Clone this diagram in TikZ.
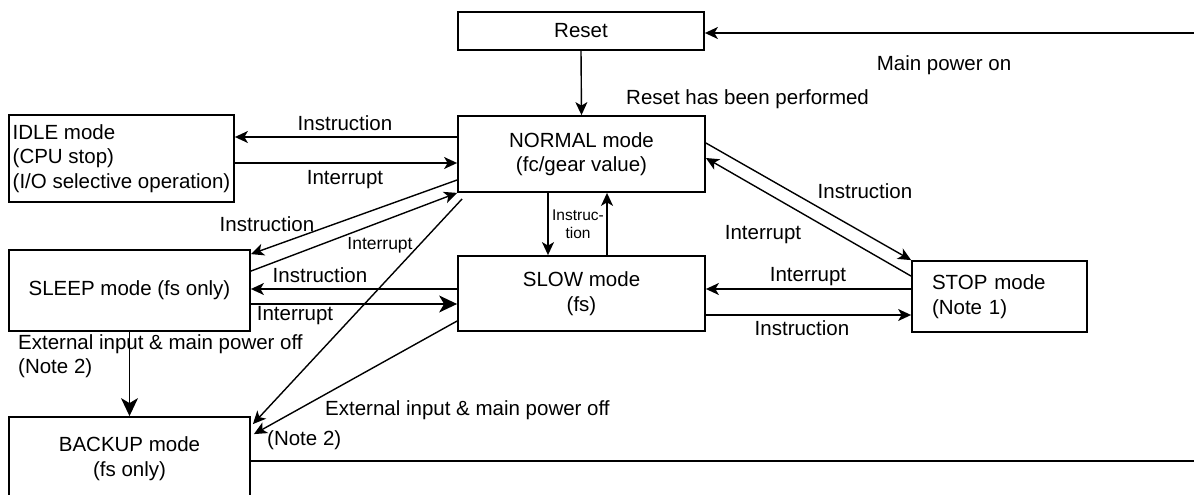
\documentclass[tikz,border=0pt]{standalone}
\usepackage{fontspec}
\setmainfont{Liberation Sans}
\usetikzlibrary{calc,arrows.meta}
\def\drawarr{\draw[line width=1.4pt,-{Stealth[length=13pt,width=12pt,inset=3.5pt]}]}
\def\drawbig{\draw[line width=1.4pt,-{Stealth[length=18pt,width=17pt,inset=5pt]}]}
\def\modenode{\node[draw=black,line width=1.8pt,inner sep=0pt,align=center]}
\def\lbl{\node[inner sep=0pt]}
\tikzset{smalltext/.style={font=\fontsize{15.5}{18}\selectfont}}

\begin{document}
\begin{tikzpicture}[x=1pt,y=-1pt,font=\fontsize{20.5}{24.5}\selectfont,baseline=(current bounding box.center)]
\useasboundingbox (0,0) rectangle (1194,495);

% ---------- the modes
\modenode[minimum width=246pt,minimum height=38pt] (reset) at (581,31) {Reset};
\modenode[minimum width=247pt,minimum height=76pt] (normal) at ($ (reset) + (0.5,123) $) {NORMAL mode\\(fc/gear value)};
\modenode[minimum width=247pt,minimum height=75pt] (slow) at ($ (normal) + (0,139.5) $) {SLOW mode\\(fs)};
\modenode[minimum width=225pt,minimum height=87pt,align=left] (idle) at (121.5,158.5) {IDLE mode\\(CPU stop)\\(I/O selective operation)};
\modenode[minimum width=241pt,minimum height=81pt] (sleep) at ($ (idle) + (8,132) $) {SLEEP mode (fs only)};
\modenode[minimum width=241pt,minimum height=83pt] (backup) at ($ (sleep) + (0,168) $) {BACKUP mode\\(fs only)};
\modenode[text width=135pt,inner xsep=20pt,minimum height=71pt,align=left] (stop) at ($ (slow) + (418,3) $) {STOP mode\\(Note 1)};

% ---------- main power in and out (lines leave the picture)
\coordinate (pwr_on) at (1194,33);
\coordinate (pwr_off) at (1194,461);
\drawarr (pwr_on) -- (pwr_on -| reset.east);
\draw[line width=1.4pt] (backup.east |- pwr_off) -- (pwr_off);
\drawarr (reset.south) -- (normal.north);

% ---------- IDLE
\drawarr ([yshift=17pt]normal.west) -- ([yshift=17pt]normal.west -| idle.east);
\drawarr ([yshift=-9pt]normal.west -| idle.east) -- ([yshift=-9pt]normal.west);

% ---------- SLEEP
\drawarr ([yshift=-26pt]normal.west) -- ([yshift=-5pt]sleep.north east);
\drawarr ([yshift=-22pt]sleep.north east) -- (normal.south west);
\drawarr ([yshift=4.5pt]slow.west) -- ([yshift=4.5pt]slow.west -| sleep.east);
\drawbig ([yshift=-10.5pt]slow.west -| sleep.east) -- ([yshift=-10.5pt]slow.west);

% ---------- BACKUP
\drawbig (sleep.south) -- (backup.north);
\drawarr ([shift={(5pt,-6pt)}]normal.south west) -- ([shift={(2pt,-8pt)}]backup.north east);
\drawarr ([yshift=-27.5pt]slow.west) -- ([shift={(3pt,-18pt)}]backup.north east);

% ---------- NORMAL <-> SLOW
\drawarr ([xshift=-33.5pt]normal.south) -- ([xshift=-33.5pt]normal.south |- slow.north);
\drawarr ([xshift=25.5pt]slow.north) -- ([xshift=25.5pt]slow.north |- normal.south);

% ---------- STOP
\drawarr ([yshift=7.5pt]stop.west) -- ([yshift=7.5pt]stop.west -| slow.east);
\drawarr ([yshift=-18.5pt]stop.west -| slow.east) -- ([yshift=-18.5pt]stop.west);
\drawarr ([yshift=11pt]normal.east) -- (stop.north west);
\drawarr ([yshift=-16pt]stop.north west) -- ([yshift=-4pt]normal.east);

% ---------- labels
\lbl (l_poweron) at (944,65) {Main power on};
\lbl[anchor=west] (l_reset) at (626,99) {Reset has been performed};
\lbl (l_idle_in) at (345,123) {Instruction};
\lbl (l_idle_out) at (345,180) {Interrupt};
\lbl (l_sleep_in) at (267,224) {Instruction};
\lbl[font=\fontsize{17.5}{20}\selectfont] (l_sleep_out) at (380,245) {Interrupt};
\lbl (l_sleep_in2) at (320,275) {Instruction};
\lbl (l_sleep_out2) at (295,316) {Interrupt};
\lbl[anchor=west,align=left] (l_ext1) at (18,356) {External input \& main power off\\(Note 2)};
\lbl[anchor=west] (l_ext2) at (325,410) {External input \& main power off};
\lbl[anchor=west] (l_note2) at (267,440) {(Note 2)};
\lbl[smalltext,align=center] (l_slow) at (578,224) {Instruc-\\tion};
\lbl (l_stop_in) at (865,191) {Instruction};
\lbl (l_stop_out) at (763,235) {Interrupt};
\lbl (l_stop_out2) at (808,277) {Interrupt};
\lbl (l_stop_in2) at (802,328) {Instruction};
\end{tikzpicture}
\end{document}
